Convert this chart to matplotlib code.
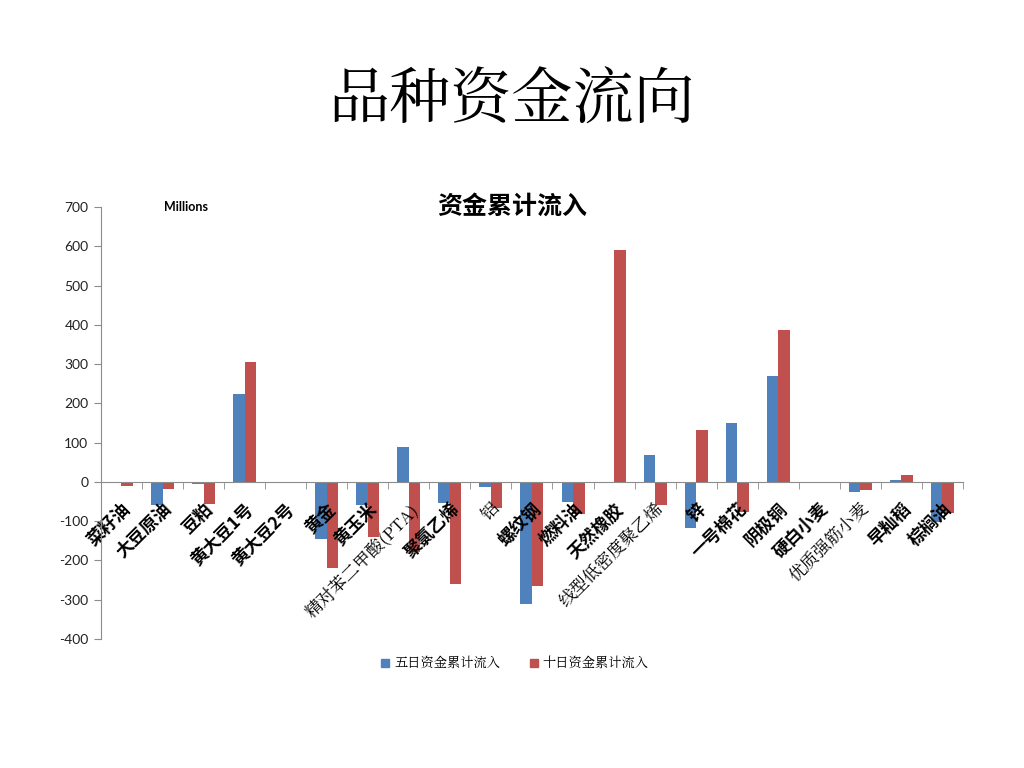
import matplotlib
matplotlib.use("Agg")
import matplotlib.pyplot as plt
import matplotlib.patches as mpatches
import numpy as np

plt.rcParams['font.family'] = ['Noto Sans CJK SC', 'DejaVu Sans']
plt.rcParams['axes.unicode_minus'] = False

categories = ['菜籽油', '大豆原油', '豆粕', '黄大豆1号', '黄大豆2号', '黄金', '黄玉米',
              '精对苯二甲酸(PTA)', '聚氯乙烯', '铝', '螺纹钢', '燃料油', '天然橡胶',
              '线型低密度聚乙烯', '锌', '一号棉花', '阴极铜', '硬白小麦', '优质强筋小麦',
              '早籼稻', '棕榈油']
five_day = [0, -60, -6, 223, 0, -145, -60, 90, -55, -13, -312, -52, -3,
            69, -117, 151, 270, 0, -25, 5, -103]
ten_day = [-10, -18, -56, 305, 0, -219, -140, -178, -261, -66, -264, -82, 590,
           -58, 132, -76, 387, 0, -20, 18, -78]
thin_labels = ['精对苯二甲酸(PTA)', '铝', '线型低密度聚乙烯', '优质强筋小麦']
series_names = ['五日资金累计流入', '十日资金累计流入']
yticks = list(range(-400, 701, 100))

blue = '#4F81BD'
red = '#C0504D'
serif = ['Noto Serif CJK SC', 'Noto Sans CJK SC', 'DejaVu Sans']

fig = plt.figure(figsize=(10.24, 7.68), dpi=100)
ax = fig.add_axes([0.0986, 0.168, 0.8418, 0.5625])

x = np.arange(len(categories))
w = 0.28
ax.bar(x - w / 2, five_day, width=w, color=blue, zorder=1)
ax.bar(x + w / 2, ten_day, width=w, color=red, zorder=1)

ax.set_xlim(-0.5, len(categories) - 0.5)
ax.set_ylim(-400, 700)
ax.set_yticks(yticks)
ax.set_yticklabels([str(v) for v in yticks], fontsize=10, color='#222222',
                   family=['Lato', 'DejaVu Sans'])

for s in ['top', 'right']:
    ax.spines[s].set_visible(False)
ax.spines['bottom'].set_position(('data', 0))
ax.spines['bottom'].set_color('#8c8c8c')
ax.spines['left'].set_color('#8c8c8c')
ax.tick_params(axis='y', direction='out', length=5, color='#8c8c8c', pad=4)

ax.set_xticks(x)
ax.set_xticks(np.arange(-0.5, len(categories), 1.0), minor=True)
ax.tick_params(axis='x', which='major', length=0, pad=13)
ax.tick_params(axis='x', which='minor', direction='out', length=5, color='#8c8c8c')
ax.set_xticklabels(categories)
for lbl in ax.get_xticklabels():
    txt = lbl.get_text()
    lbl.set_rotation(45)
    lbl.set_rotation_mode('anchor')
    lbl.set_ha('right')
    lbl.set_va('top')
    lbl.set_fontsize(12.5)
    lbl.set_color('black')
    if txt in thin_labels:
        lbl.set_family(serif)
        lbl.set_fontweight('normal')
    else:
        lbl.set_fontweight('bold')

fig.text(0.5, 0.869, '品种资金流向', ha='center', va='center', fontsize=44,
         family=serif)
fig.text(0.5, 0.7305, '资金累计流入', ha='center', va='center', fontsize=18,
         fontweight='bold')
fig.text(0.182, 0.7305, 'Millions', ha='center', va='center', fontsize=9,
         fontweight='bold', family=['Lato', 'DejaVu Sans'])

handles = [mpatches.Patch(color=blue, label=series_names[0]),
           mpatches.Patch(color=red, label=series_names[1])]
fig.legend(handles=handles, loc='center', bbox_to_anchor=(0.503, 0.136), ncol=2,
           frameon=False, handlelength=0.6, handleheight=0.6,
           handletextpad=0.4, columnspacing=2.2,
           prop={'family': serif, 'size': 9.5, 'weight': 'light'})

fig.savefig('out.png', dpi=100)
